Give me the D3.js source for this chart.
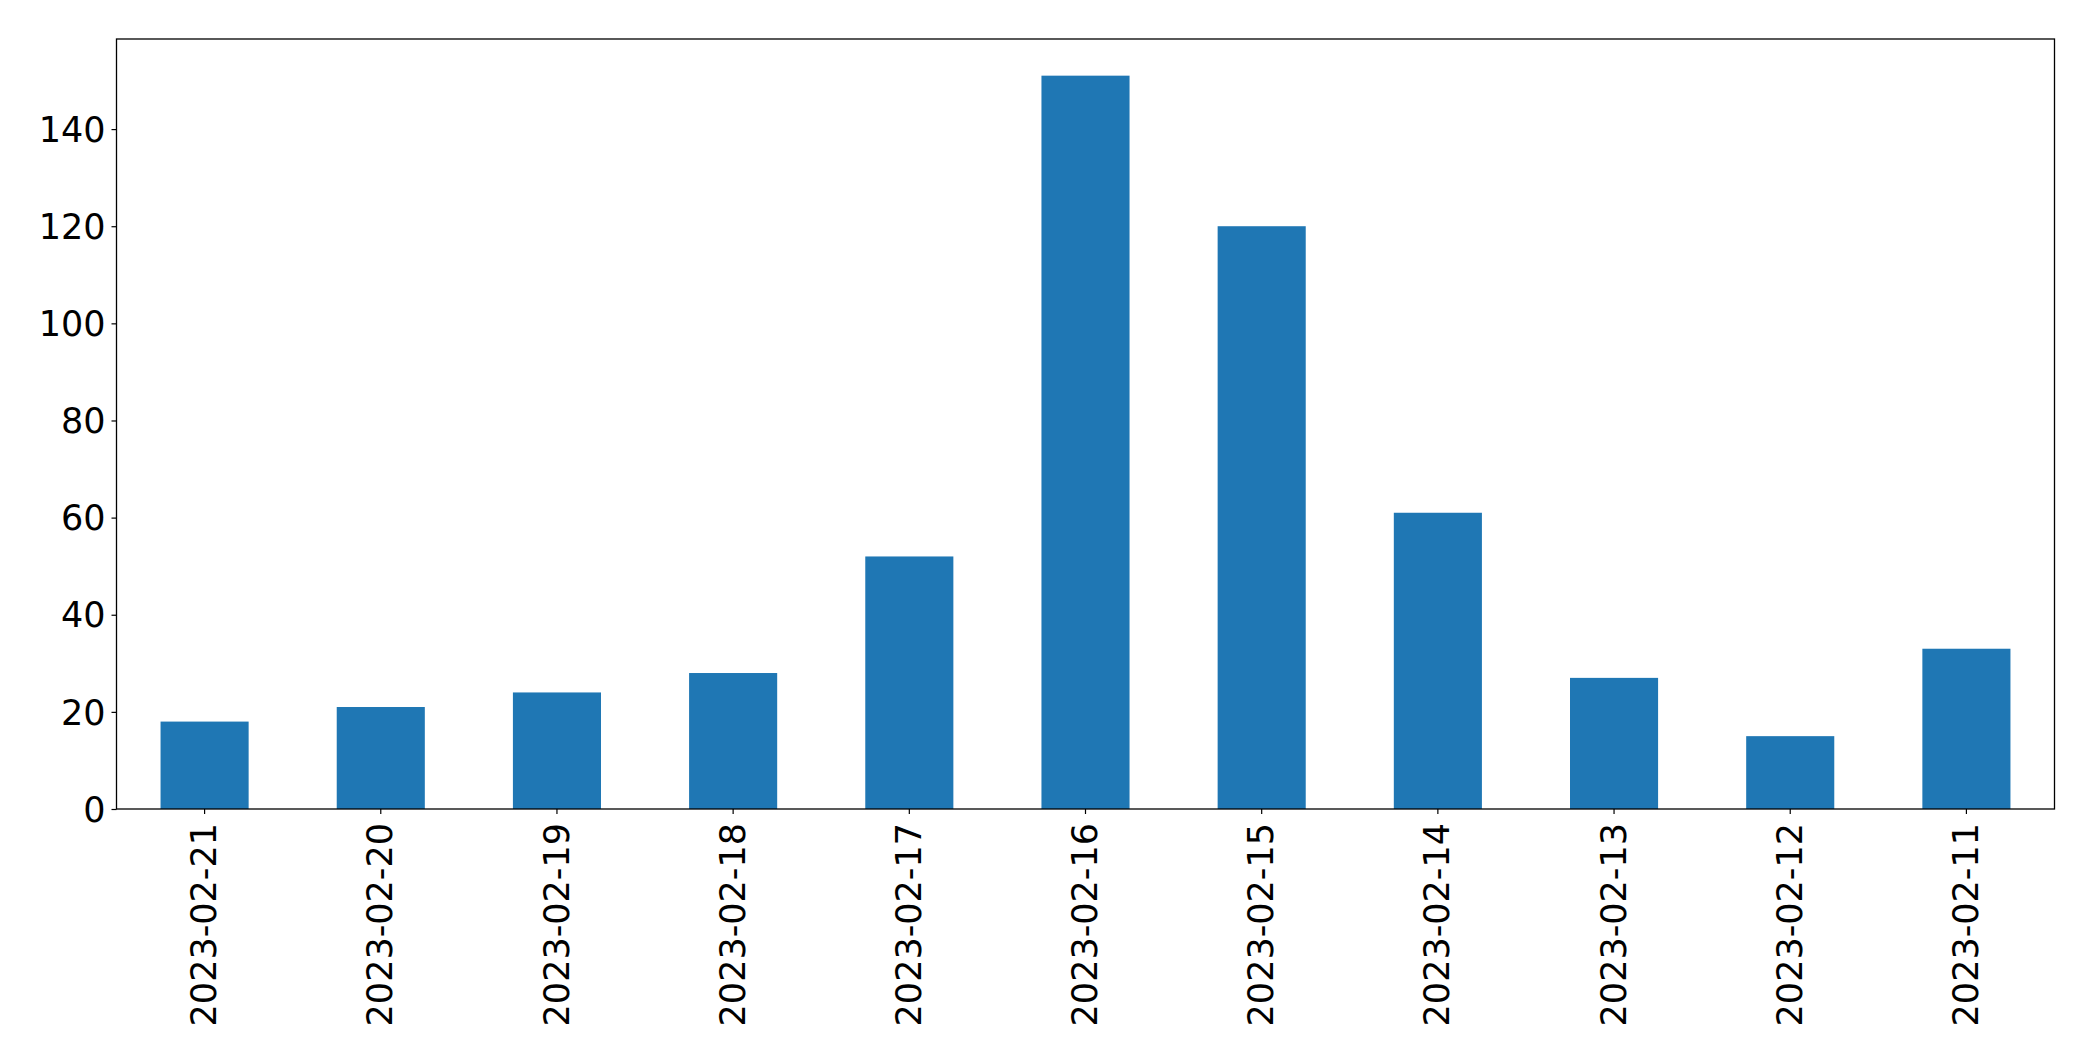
<!DOCTYPE html>
<html><head><meta charset="utf-8">
<script src="https://cdn.jsdelivr.net/npm/d3@7"></script>
<style>html,body{margin:0;padding:0;background:#fff;}svg{display:block;}</style>
</head><body>
<script>
const categories = ["2023-02-21","2023-02-20","2023-02-19","2023-02-18","2023-02-17","2023-02-16","2023-02-15","2023-02-14","2023-02-13","2023-02-12","2023-02-11"];
const values = [18,21,24,28,52,151,120,61,27,15,33];
const yTicks = [0,20,40,60,80,100,120,140];

const W = 2093, H = 1061;
const m = {left:116.5, right:2093-2054.5, top:39, bottom:1061-809};
const font = "'DejaVu Sans', sans-serif";
const fs = 35;

const svg = d3.select("body").append("svg").attr("width", W).attr("height", H);

const x = d3.scaleBand().domain(categories).range([m.left, W - m.right]).paddingInner(0.5).paddingOuter(0.25);
const y = d3.scaleLinear().domain([0, d3.max(values) * 1.05]).range([H - m.bottom, m.top]);

svg.append("g").selectAll("rect").data(values).join("rect")
  .attr("x", (d,i) => x(categories[i]))
  .attr("width", x.bandwidth())
  .attr("y", d => y(d))
  .attr("height", d => y(0) - y(d))
  .attr("fill", "#1f77b4");

const yAxis = svg.append("g").attr("transform", `translate(${m.left},0)`)
  .call(d3.axisLeft(y).tickValues(yTicks).tickSize(5).tickPadding(6).tickFormat(d3.format("d")));
const xAxis = svg.append("g").attr("transform", `translate(0,${H - m.bottom})`)
  .call(d3.axisBottom(x).tickSize(5).tickPadding(7));

[yAxis, xAxis].forEach(g => {
  g.select(".domain").remove();
  g.selectAll("line").attr("stroke", "#000").attr("stroke-width", 1.2);
  g.selectAll("text").attr("fill", "#000").style("font-family", font).style("font-size", fs + "px");
});
yAxis.selectAll("text").attr("dy", "0.35em");
xAxis.selectAll("text")
  .attr("transform", "rotate(-90)")
  .attr("text-anchor", "end")
  .attr("x", -14)
  .attr("y", 0)
  .attr("dy", "0.33em");

svg.append("rect")
  .attr("x", m.left).attr("y", m.top)
  .attr("width", W - m.left - m.right).attr("height", H - m.top - m.bottom)
  .attr("fill", "none").attr("stroke", "#000").attr("stroke-width", 1.3);
</script>
</body></html>
